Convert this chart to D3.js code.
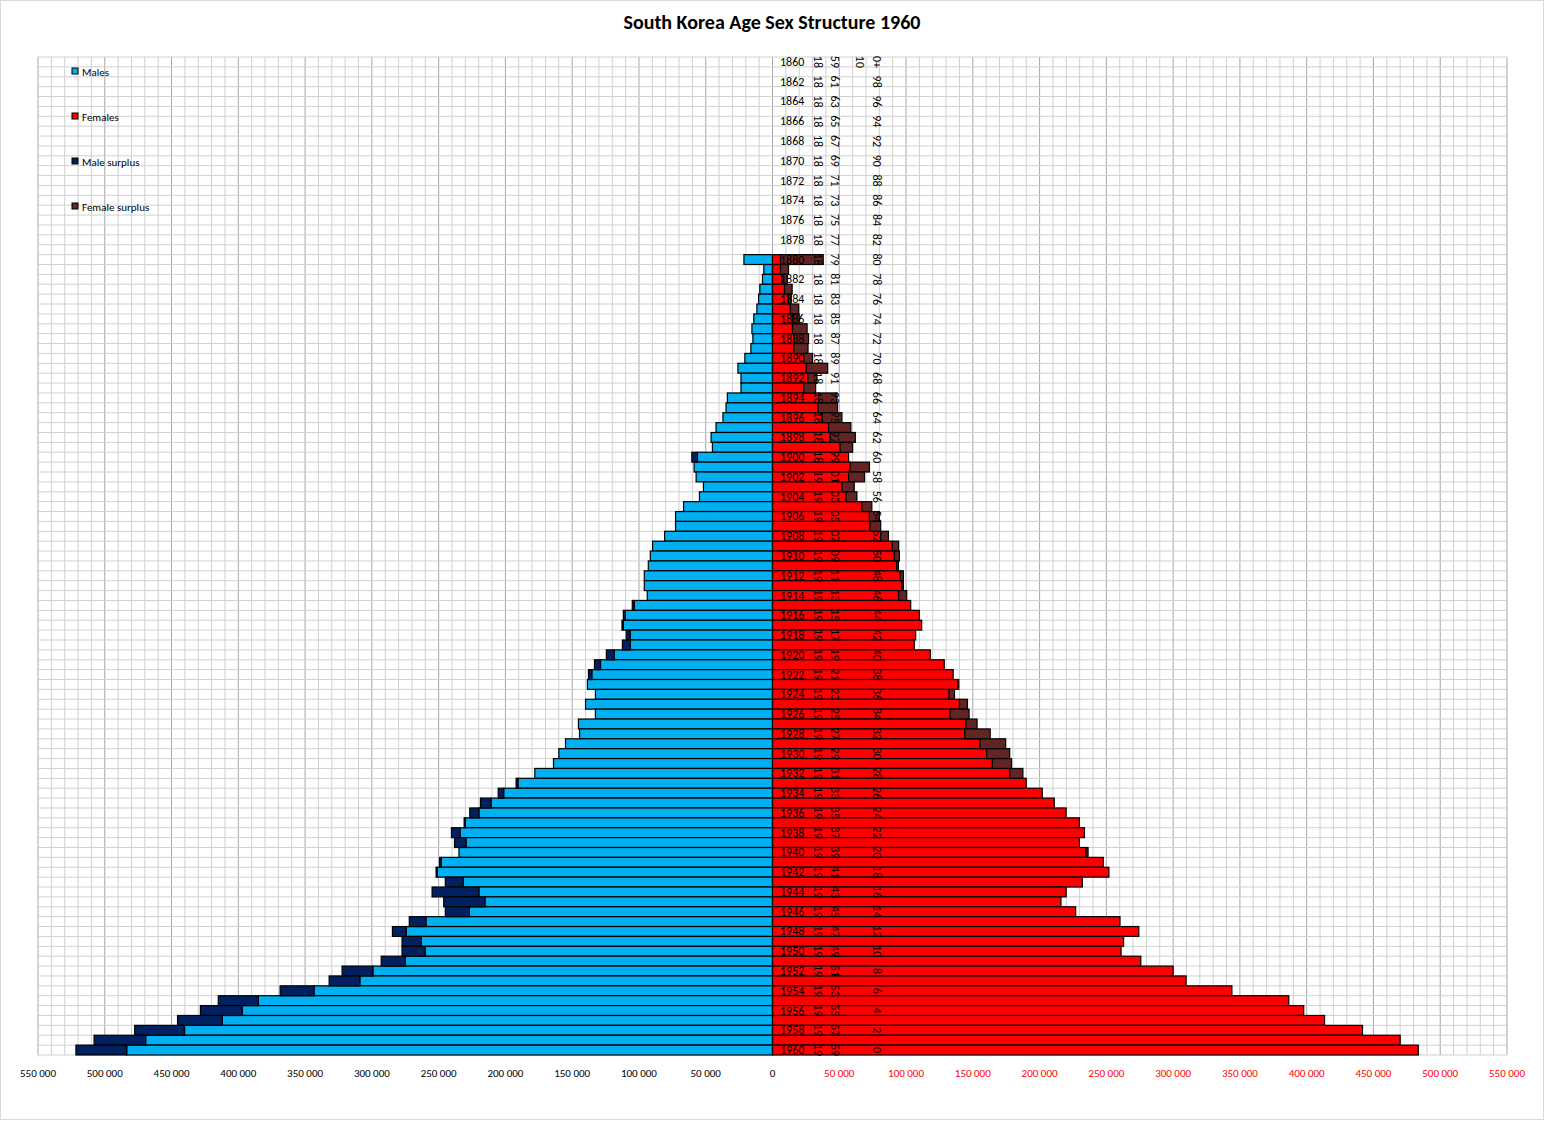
<!DOCTYPE html>
<html>
<head>
<meta charset="utf-8">
<script src="https://cdn.jsdelivr.net/npm/d3@7"></script>
<style>
body { margin: 0; background: #fff; }
text { font-family: Calibri, Carlito, "Liberation Sans", sans-serif; }
</style>
</head>
<body>
<div id="chart"></div>
<script>
// birth years 1860..1960, bars start at 1880 (values in thousands)
var firstYear = 1860, lastYear = 1960, barStart = 1880;
var maleBar = [21.4,6.5,7.5,9.5,10.4,11.7,14,15.4,14.7,16.2,20.7,25.9,23.6,23.6,33.8,34.8,37.1,42.3,46,45,
	56.2,58.7,57.2,51.7,54.7,66.6,72.6,72.6,80.8,89.8,91.5,93,96,96,93.8,103.5,110.2,111.7,106.5,106.5,
	118.4,128.8,135.3,138.6,132.6,140,132.6,145.3,144.5,155,160,164,178,190.6,201.3,210.7,219.9,230,233.9,229.4,
	234.8,248,251.1,231.7,219.9,215.3,227,259.5,274.3,263,260.2,275,299.3,309,343.3,385,397,412,440.3,469.4,483.6];
var maleSurplus = [0,0,0,0,0,0,0,0,0,0,0,0,0,0,0,0,0,0,0,0,
	4.2,0,0,0,0,0,0,0,0,0,0,0,0,0,0,1.5,1.5,1,3,5.9,
	6,4.5,2.5,0,0,0,0,0,0,0,0,0,0,1.4,4.1,8,6.8,0.9,6.5,8.7,
	0,1.3,0.8,13.3,35,30.9,18,12.5,10.3,14.4,17.2,18,23,23,25.4,30,31.4,33.5,37.3,38.6,38];
var femaleBar = [6,6,7,9,12,13.4,15,15,15.9,15.9,23.4,25.4,26.4,23.4,34.6,34.1,37.1,42,43.3,50.7,
	57,58.2,57,52,55,66.9,72.6,73,81,89.8,91.3,93,95.8,96.8,94.5,103.5,110,111.7,107.2,106.2,
	118.2,128.6,135.3,138.6,132.3,140,133,144.8,144,155.4,160.4,164.7,177.6,190,202,211,219.9,229.8,233.6,229.8,
	234.7,247.7,251.9,232,219.9,216,227,260.2,274.3,262.9,261,275.8,300,309.7,344,386.6,397.8,413.4,441.8,470,483.6];
var femaleSurplus = [32,6,4,5.7,2,6.2,5,10.9,11.1,10.7,6.6,15.9,6.9,8.9,13.7,14.6,14.9,16.7,18.7,9.3,
	0,14.4,11.9,9.2,8.2,7.5,7.4,8,5.8,4.7,3.7,1.3,2.2,1.2,6,0,0,0,0,0,
	0,0,0,0.9,4,6,14.2,8.4,19,19.2,17.2,14.3,9.9,0,0,0,0,0,0,0,
	1.6,0,0,0,0,0,0,0,0,0,0,0,0,0,0,0,0,0,0,0,0];
var tickValues = d3.range(-550000, 550001, 50000);
var legendItems = ["Males", "Females", "Male surplus", "Female surplus"];
var colors = { male: "#00b0f0", female: "#ff0000", maleSur: "#002060", femaleSur: "#632523" };

var width = 1545, height = 1121;
var svg = d3.select("#chart").append("svg").attr("width", width).attr("height", height);
svg.append("rect").attr("x", 0.5).attr("y", 0.5).attr("width", width - 2).attr("height", height - 2)
	.attr("fill", "#fff").attr("stroke", "#d9d9d9");

var years = d3.range(firstYear, lastYear + 1);
var x = d3.scaleLinear().domain([-550000, 550000]).range([38, 1507]);
var y = d3.scaleBand().domain(years).range([57, 1055]).padding(0);

// grid
var g = svg.append("g");
g.selectAll(".vg").data(d3.range(-550000, 550001, 10000)).enter().append("line")
	.attr("x1", function(d){ return x(d); }).attr("x2", function(d){ return x(d); })
	.attr("y1", 57).attr("y2", 1055)
	.attr("stroke", function(d){ return d % 50000 === 0 ? "#a6a6a6" : "#d0d0d0"; })
	.attr("stroke-width", 1);
g.selectAll(".hg").data(years.concat([lastYear + 1])).enter().append("line")
	.attr("x1", 38).attr("x2", 1507)
	.attr("y1", function(d){ return d > lastYear ? 1055 : y(d); })
	.attr("y2", function(d){ return d > lastYear ? 1055 : y(d); })
	.attr("stroke", "#d0d0d0");

var rows = years.filter(function(d){ return d >= barStart; }).map(function(yr, i){
	return { year: yr, mb: maleBar[i] * 1000, ms: maleSurplus[i] * 1000, fb: femaleBar[i] * 1000, fs: femaleSurplus[i] * 1000 };
});

var bars = svg.append("g").attr("stroke", "#000").attr("stroke-width", 1.2);
function seg(cls, color, x0f, x1f){
	bars.selectAll("." + cls).data(rows.filter(function(d){ return x1f(d) !== x0f(d); })).enter().append("rect")
		.attr("class", cls)
		.attr("fill", color)
		.attr("x", function(d){ return Math.min(x(x0f(d)), x(x1f(d))); })
		.attr("width", function(d){ return Math.abs(x(x1f(d)) - x(x0f(d))); })
		.attr("y", function(d){ return y(d.year); })
		.attr("height", y.bandwidth());
}
seg("mb", colors.male, function(){ return 0; }, function(d){ return -d.mb; });
seg("ms", colors.maleSur, function(d){ return -d.mb; }, function(d){ return -d.mb - d.ms; });
seg("fb", colors.female, function(){ return 0; }, function(d){ return d.fb; });
seg("fs", colors.femaleSur, function(d){ return d.fb; }, function(d){ return d.fb + d.fs; });

// row labels
var even = years.filter(function(d){ return d % 2 === 0; });
var lab = svg.append("g").attr("font-size", 12).attr("fill", "#000");
lab.selectAll(".yr").data(even).enter().append("text")
	.attr("x", 780).attr("y", function(d){ return y(d) + y.bandwidth() / 2 + 4; })
	.text(String);
function rotCol(cx, fn){
	lab.selectAll(null).data(even).enter().append("text")
		.attr("transform", function(d){ return "translate(" + cx + "," + (y(d) + y.bandwidth() / 2) + ") rotate(90)"; })
		.attr("text-anchor", "middle").attr("dy", "0.35em")
		.text(fn);
}
rotCol(818, function(d){ return String(Math.floor((d - 1) / 100)); });
rotCol(835, function(d){ return String((d - 1) % 100).padStart(2, "0"); });
rotCol(860, function(d){ return d === firstYear ? "10" : ""; });
rotCol(877, function(d){ return d === firstYear ? "0+" : String(lastYear - d); });

// x axis labels
var fmt = function(v){ return d3.format(",")(Math.abs(v)).replace(/,/g, " "); };
svg.append("g").selectAll("text").data(tickValues).enter().append("text")
	.attr("x", function(d){ return x(d); }).attr("y", 1077)
	.attr("text-anchor", "middle").attr("font-size", 11)
	.attr("fill", function(d){ return d > 0 ? "#ff0000" : "#000"; })
	.text(fmt);

// legend
var lg = svg.append("g");
var legColors = [colors.male, colors.female, colors.maleSur, colors.femaleSur];
lg.selectAll("rect").data(legendItems).enter().append("rect")
	.attr("x", 72).attr("y", function(d, i){ return 68 + i * 45; })
	.attr("width", 6).attr("height", 6)
	.attr("fill", function(d, i){ return legColors[i]; }).attr("stroke", "#000");
lg.selectAll("text").data(legendItems).enter().append("text")
	.attr("x", 82).attr("y", function(d, i){ return 76 + i * 45; })
	.attr("font-size", 11).text(String);

svg.append("text").attr("x", 772).attr("y", 29).attr("text-anchor", "middle")
	.attr("font-size", 20).attr("font-weight", "bold").text("South Korea Age Sex Structure 1960");
</script>
</body>
</html>
